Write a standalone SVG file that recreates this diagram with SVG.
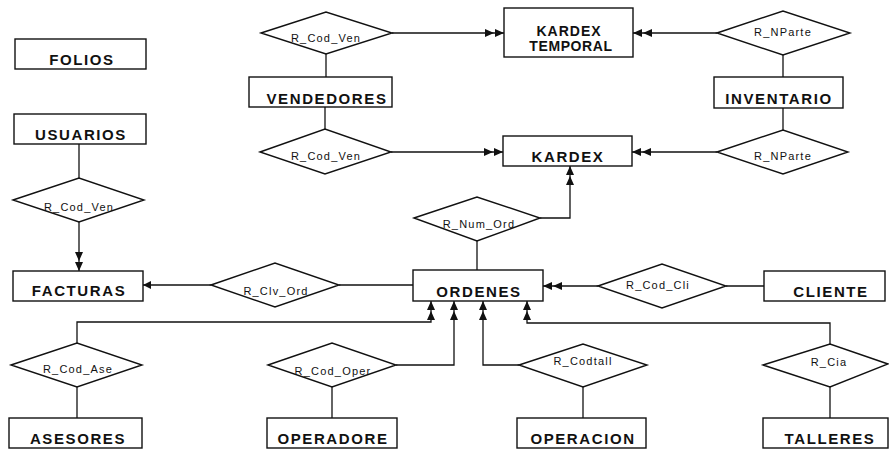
<svg xmlns="http://www.w3.org/2000/svg" width="889" height="449" viewBox="0 0 889 449">
<style>
.ent{fill:#fff;stroke:#111;stroke-width:1.4}
.rel{fill:#fff;stroke:#111;stroke-width:1.4}
.et{font-family:"Liberation Sans",Arial,sans-serif;font-weight:bold;font-size:15px;letter-spacing:1.6px;fill:#111;text-anchor:middle}
.rt{font-family:"Liberation Sans",Arial,sans-serif;font-size:11px;letter-spacing:1.2px;fill:#111;text-anchor:middle}
.c{fill:none;stroke:#111;stroke-width:1.3}
.dbl{marker-end:url(#dbl)}
.sgl{marker-end:url(#sgl)}
</style>
<defs>
<marker id="dbl" markerUnits="userSpaceOnUse" viewBox="-22 -5 23 10" refX="0" refY="0" markerWidth="23" markerHeight="10" orient="auto">
<path d="M0,0 L-9,-4 L-9,4 Z M-10,0 L-19,-4 L-19,4 Z" fill="#111"/>
</marker>
<marker id="sgl" markerUnits="userSpaceOnUse" viewBox="-10 -5 11 10" refX="0" refY="0" markerWidth="11" markerHeight="10" orient="auto">
<path d="M0,0 L-8,-4 L-8,4 Z" fill="#111"/>
</marker>
</defs>
<rect width="889" height="449" fill="#fff"/>
<g id="connectors">
<path class="c dbl" d="M392,33 H504"/>
<path class="c" d="M326,54 V77"/>
<path class="c dbl" d="M717,33 H633"/>
<path class="c" d="M783,55 V77"/>
<path class="c" d="M325,107 V129"/>
<path class="c dbl" d="M391,152 H503"/>
<path class="c" d="M783,108 V130"/>
<path class="c dbl" d="M717,152 H632"/>
<path class="c dbl" d="M540,218 H570 V166"/>
<path class="c" d="M477,241 V270"/>
<path class="c" d="M79,144 V178"/>
<path class="c dbl" d="M79,222 V271"/>
<path class="c sgl" d="M211,285 H143"/>
<path class="c" d="M339,285 H413"/>
<path class="c" d="M764,286 H726"/>
<path class="c dbl" d="M598,286 H543"/>
<path class="c dbl" d="M77,343 V322 H431 V301"/>
<path class="c" d="M77,387 V418"/>
<path class="c dbl" d="M396,365 H454 V301"/>
<path class="c" d="M332,387 V418"/>
<path class="c dbl" d="M519,365 H483 V301"/>
<path class="c" d="M583,387 V418"/>
<path class="c dbl" d="M830,344 V323 H527 V301"/>
<path class="c" d="M830,387 V418"/>
</g>
<g id="folios"><rect class="ent" x="15" y="39" width="131" height="30"/><text class="et" x="82" y="65">FOLIOS</text></g>
<g id="usuarios"><rect class="ent" x="14" y="114" width="132" height="30"/><text class="et" x="81" y="140">USUARIOS</text></g>
<g id="vendedores"><rect class="ent" x="249" y="77" width="143" height="30"/><text class="et" x="327" y="104">VENDEDORES</text></g>
<g id="kardex_temporal"><rect class="ent" x="504" y="8" width="129" height="49"/><text class="et" x="569" y="36" style="font-size:14px;letter-spacing:1px">KARDEX</text><text class="et" x="571" y="51" style="font-size:14px;letter-spacing:0.6px">TEMPORAL</text></g>
<g id="inventario"><rect class="ent" x="714" y="77" width="129" height="31"/><text class="et" x="779" y="104">INVENTARIO</text></g>
<g id="kardex"><rect class="ent" x="503" y="136" width="129" height="30"/><text class="et" x="568" y="162">KARDEX</text></g>
<g id="facturas"><rect class="ent" x="13" y="271" width="130" height="30"/><text class="et" x="79" y="296">FACTURAS</text></g>
<g id="ordenes"><rect class="ent" x="413" y="270" width="130" height="31"/><text class="et" x="479" y="297">ORDENES</text></g>
<g id="cliente"><rect class="ent" x="764" y="271" width="121" height="30"/><text class="et" x="831" y="297">CLIENTE</text></g>
<g id="asesores"><rect class="ent" x="9" y="418" width="133" height="30"/><text class="et" x="78" y="444">ASESORES</text></g>
<g id="operadore"><rect class="ent" x="267" y="418" width="130" height="30"/><text class="et" x="333" y="444">OPERADORE</text></g>
<g id="operacion"><rect class="ent" x="517" y="418" width="129" height="30"/><text class="et" x="583" y="444">OPERACION</text></g>
<g id="talleres"><rect class="ent" x="763" y="418" width="125" height="30"/><text class="et" x="830" y="444">TALLERES</text></g>
<g id="r_cod_ven_top"><polygon class="rel" points="261,33 326,12 392,33 326,54"/><text class="rt" x="326" y="42">R_Cod_Ven</text></g>
<g id="r_nparte_top"><polygon class="rel" points="717,33 783,11 850,33 783,55"/><text class="rt" x="783" y="36">R_NParte</text></g>
<g id="r_cod_ven_mid"><polygon class="rel" points="260,152 325,129 391,152 325,174"/><text class="rt" x="326" y="160">R_Cod_Ven</text></g>
<g id="r_nparte_mid"><polygon class="rel" points="717,152 783,130 848,152 783,174"/><text class="rt" x="783" y="160">R_NParte</text></g>
<g id="r_num_ord"><polygon class="rel" points="414,218 477,197 540,218 477,241"/><text class="rt" x="479" y="228">R_Num_Ord</text></g>
<g id="r_cod_ven_left"><polygon class="rel" points="13,200 79,178 144,200 79,222"/><text class="rt" x="79" y="211">R_Cod_Ven</text></g>
<g id="r_clv_ord"><polygon class="rel" points="211,285 275,263 339,285 275,307"/><text class="rt" x="276" y="295">R_Clv_Ord</text></g>
<g id="r_cod_cli"><polygon class="rel" points="598,286 662,264 726,286 662,308"/><text class="rt" x="658" y="289">R_Cod_Cli</text></g>
<g id="r_cod_ase"><polygon class="rel" points="11,365 77,343 142,365 77,387"/><text class="rt" x="78" y="373">R_Cod_Ase</text></g>
<g id="r_cod_oper"><polygon class="rel" points="268,365 332,343 396,365 332,387"/><text class="rt" x="333" y="375">R_Cod_Oper</text></g>
<g id="r_codtall"><polygon class="rel" points="519,365 583,344 647,365 583,387"/><text class="rt" x="583" y="365">R_Codtall</text></g>
<g id="r_cia"><polygon class="rel" points="763,365 830,344 888,364 830,387"/><text class="rt" x="829" y="366">R_Cia</text></g>
</svg>
